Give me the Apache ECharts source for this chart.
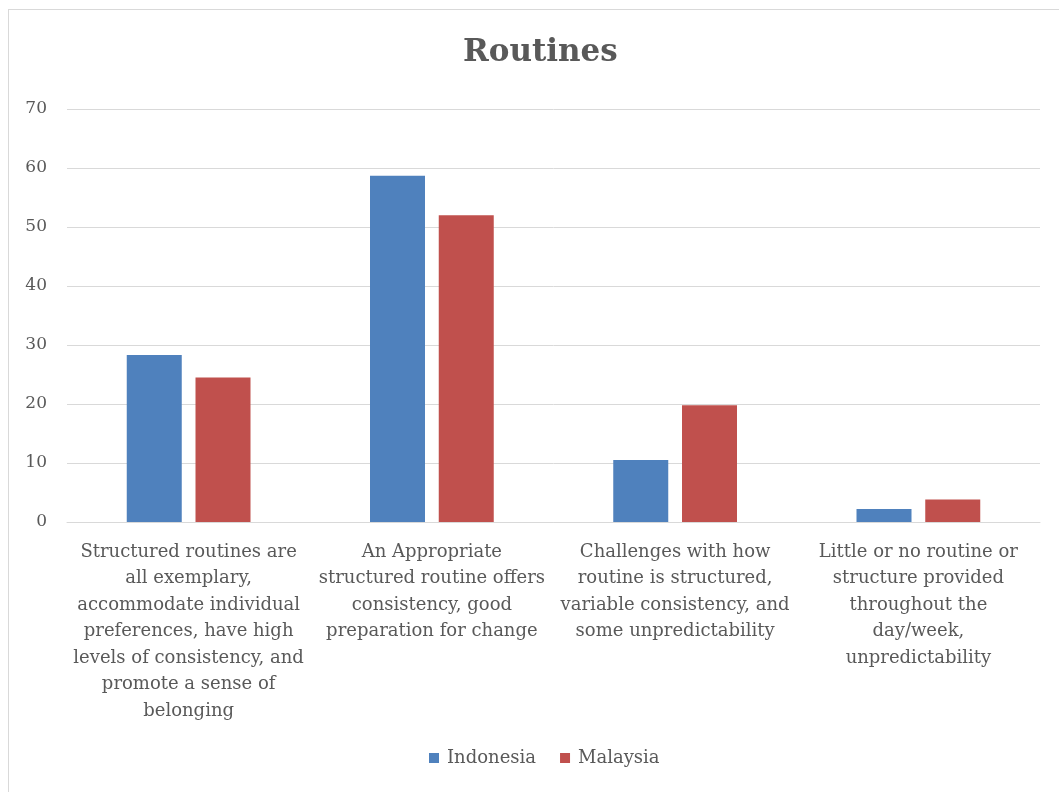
<!DOCTYPE html>
<html>
<head>
<meta charset="utf-8">
<script src="https://cdn.jsdelivr.net/npm/echarts@6/dist/echarts.min.js"></script>
<style>
  html, body { margin: 0; padding: 0; background: #fff; }
  #frame { position: absolute; left: 8px; top: 9px; width: 1060px; height: 790px; border: 1px solid #d9d9d9; box-sizing: border-box; }
  #chart { position: absolute; left: 0; top: 0; width: 1059px; height: 792px; }
</style>
</head>
<body>
<div id="frame"></div>
<div id="chart"></div>
<script>
var categories = [
    'Structured routines are\nall exemplary,\naccommodate individual\npreferences, have high\nlevels of consistency, and\npromote a sense of\nbelonging',
    'An Appropriate\nstructured routine offers\nconsistency, good\npreparation for change',
    'Challenges with how\nroutine is structured,\nvariable consistency, and\nsome unpredictability',
    'Little or no routine or\nstructure provided\nthroughout the\nday/week,\nunpredictability'
];
var indonesia = [28.3, 58.7, 10.5, 2.2];
var malaysia = [24.5, 52.0, 19.8, 3.8];

var serif = 'DejaVu Serif';
var chart = echarts.init(document.getElementById('chart'));

var option = {
    animation: false,
    title: {
        text: 'Routines',
        left: 458,
        top: 32,
        textStyle: { fontFamily: serif, fontSize: 31, fontWeight: 'bold', color: '#595959' }
    },
    legend: {
        bottom: 20,
        left: 424,
        itemWidth: 10,
        itemHeight: 10,
        itemGap: 24,
        icon: 'rect',
        textStyle: { fontFamily: serif, fontSize: 18, color: '#595959', padding: [0, 0, 0, 3] },
        data: ['Indonesia', 'Malaysia']
    },
    grid: { left: 67, right: 19, top: 109, bottom: 270 },
    xAxis: {
        type: 'category',
        data: categories,
        axisTick: { show: false },
        axisLine: { lineStyle: { color: '#d9d9d9', width: 1 } },
        axisLabel: {
            interval: 0,
            margin: 17,
            fontFamily: serif,
            fontSize: 18,
            lineHeight: 26.5,
            color: '#595959',
            align: 'center'
        }
    },
    yAxis: {
        type: 'value',
        min: 0,
        max: 70,
        interval: 10,
        axisLine: { show: false },
        axisTick: { show: false },
        splitLine: { lineStyle: { color: '#d9d9d9', width: 1 } },
        axisLabel: { fontFamily: serif, fontSize: 17, color: '#595959', margin: 20 }
    },
    series: [
        {
            name: 'Indonesia',
            type: 'bar',
            data: indonesia,
            barWidth: 55,
            barGap: '25%',
            itemStyle: { color: '#4f81bd' }
        },
        {
            name: 'Malaysia',
            type: 'bar',
            data: malaysia,
            barWidth: 55,
            itemStyle: { color: '#c0504d' }
        }
    ]
};

chart.setOption(option);
</script>
</body>
</html>
